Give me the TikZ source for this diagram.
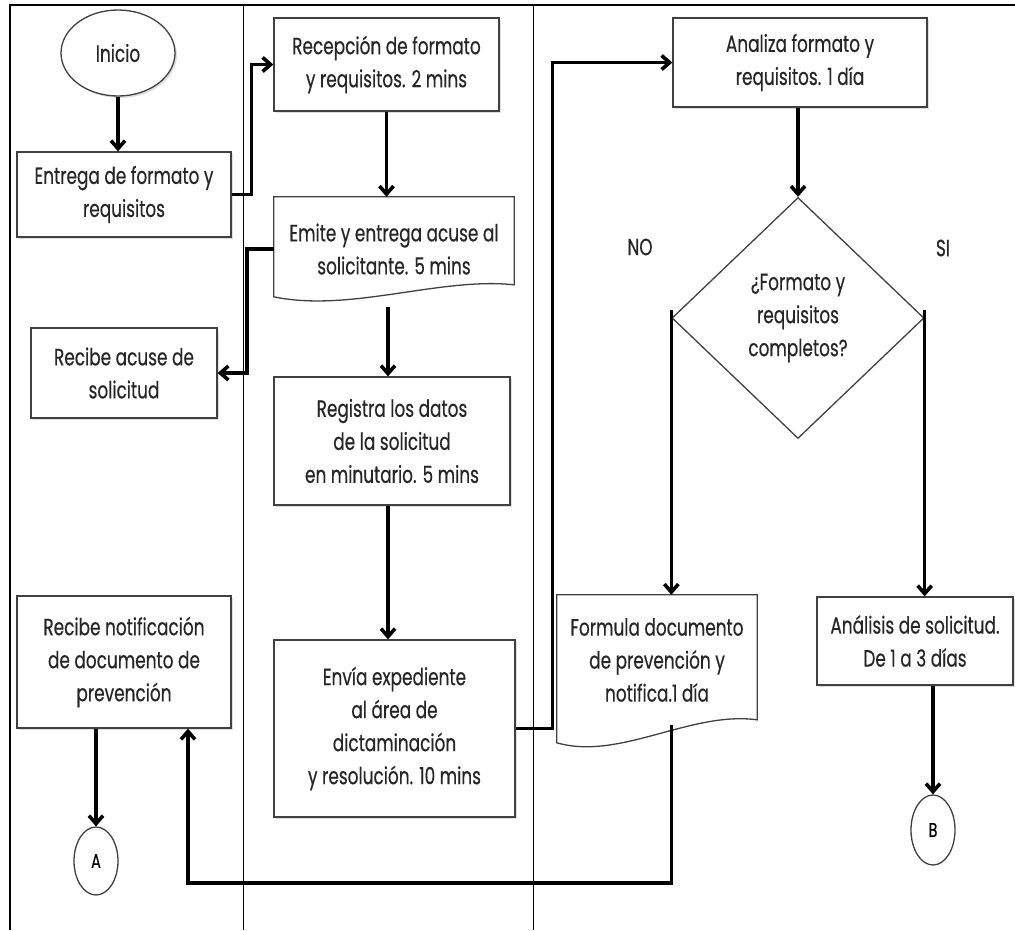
\documentclass[tikz,border=0pt]{standalone}
\usepackage{fontspec}
\setmainfont{Poppins}[FakeStretch=0.72,FakeBold=0.35]
\usetikzlibrary{shapes.geometric,arrows.meta,calc,shadows}
\newcommand{\flowfont}{\fontsize{23.5}{33}\selectfont}
\tikzset{
  box/.style={draw=black!75, line width=1.3pt, fill=white, align=center, font=\flowfont, text=black!85, inner sep=2pt,
    drop shadow={opacity=0.25,shadow xshift=2pt,shadow yshift=-2pt}},
  docbox/.style={align=center, font=\flowfont, text=black!85, inner sep=2pt},
  docline/.style={draw=black!75, line width=1.3pt},
  flowarrow/.style={line width=3.6pt, -{Straight Barb[length=8pt,width=14pt]}},
  lane/.style={line width=0.8pt},
  connector/.style={draw=black!75, line width=1.3pt, fill=white, ellipse, inner sep=0pt, font=\fontsize{20}{22}\selectfont}
}
\begin{document}
\begin{tikzpicture}[x=1pt,y=-1pt]
\useasboundingbox (0,0) rectangle (1015,930);
\draw[line width=2.5pt] (10,930) -- (10,5) -- (1015,5);
\draw[lane] (243,5) -- (243,930);
\draw[lane] (533,5) -- (533,930);

\node[box,ellipse,minimum width=114pt,minimum height=86pt,inner sep=0pt] (ini) at (118,53) {Inicio};
\node[box,minimum width=214pt,minimum height=85pt] (ent) at (124,194.5) {Entrega de formato y\\requisitos};
\node[box,minimum width=225pt,minimum height=93pt] (rec) at (386.5,64.5) {Recepción de formato\\y requisitos. 2 mins};
\node[docbox,minimum width=240pt,minimum height=104pt] (emi) at (394,249) {Emite y entrega acuse al\\solicitante. 5 mins};
\draw[docline] (emi.north west) -- (emi.north east) -- ++(0,88)
  .. controls +(-74,-8) and +(76,16) .. ($(emi.north west)+(0,100)$) -- cycle;
\node[box,minimum width=186pt,minimum height=90pt] (rac) at (124,373) {Recibe acuse de\\solicitud};
\node[box,minimum width=236pt,minimum height=128pt] (reg) at (392,441) {Registra los datos\\de la solicitud\\en minutario. 5 mins};
\node[box,minimum width=241pt,minimum height=177pt] (env) at (394.5,728.5) {Envía expediente\\al área de\\dictaminación\\y resolución. 10 mins};
\node[box,minimum width=214pt,minimum height=132pt] (rno) at (124,662) {Recibe notificación\\de documento de\\prevención};
\node[connector,minimum width=44pt,minimum height=68pt] (A) at (96,861) {A};
\node[box,minimum width=254pt,minimum height=89pt] (ana) at (800,62.5) {Analiza formato y\\requisitos. 1 día};
\node[diamond,draw=black!75,line width=1.3pt,align=center,font=\flowfont,text=black!85,inner sep=0pt,
  minimum width=252pt,minimum height=241pt] (dec) at (798,318) {¿Formato y\\requisitos\\completos?};
\node[font=\flowfont,text=black!85] (no) at (640,247) {NO};
\node[font=\flowfont,text=black!85] (si) at (943,248) {SI};
\node[docbox,minimum width=200pt,minimum height=130pt] (for) at (657,660) {Formula documento\\de prevención y\\notifica.1 día};
\draw[docline] (for.north west) -- (for.north east) -- ++(0,125)
  .. controls +(-67,-9) and +(63,18) .. ($(for.north west)+(0,148)$) -- cycle;
\node[box,minimum width=196pt,minimum height=88pt] (ans) at (915,641) {Análisis de solicitud.\\De 1 a 3 días};
\node[connector,minimum width=44pt,minimum height=70pt] (B) at (933,830) {B};

\draw[flowarrow] (ini.south) -- (ini.south |- ent.north);
\draw[flowarrow] (ent.east) -- ++(20,0) |- (rec.west);
\draw[flowarrow] (rec.south) -- (rec.south |- emi.north);
\draw[flowarrow] (emi.west) -- ++(-27,0) |- (rac.east);
\draw[flowarrow] ($(emi.south)+(-6,6)$) -- ($(reg.north)+(-4,0)$);
\draw[flowarrow] ($(reg.south)+(-4,0)$) -- ($(env.north)+(-6.5,0)$);
\draw[flowarrow] (rno.south -| A.north) -- (A.north);
\draw[flowarrow] (env.east) -- ++(37,0) |- (ana.west);
\draw[flowarrow] (dec.north |- ana.south) -- (dec.north);
\draw[flowarrow] ($(dec.west)+(0,-8)$) -- (dec.west |- for.north);
\draw[flowarrow] ($(dec.east)+(0,-8)$) -- (dec.east |- ans.north);
\draw[flowarrow] (B.north |- ans.south) -- (B.north);
\coordinate (fb) at (188,883);
\draw[flowarrow] (dec.west |- for.south) |- (fb) -- (fb |- rno.south);
\end{tikzpicture}
\end{document}
